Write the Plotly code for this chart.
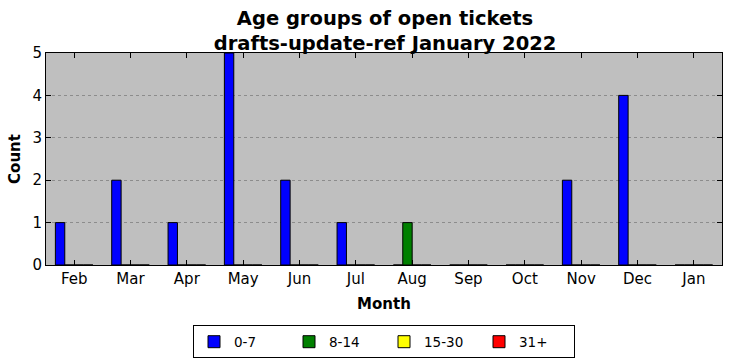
import plotly.graph_objects as go

months = ["Feb", "Mar", "Apr", "May", "Jun", "Jul", "Aug", "Sep", "Oct", "Nov", "Dec", "Jan"]
age_0_7 = [1, 2, 1, 5, 2, 1, 0, 0, 0, 2, 4, 0]
age_8_14 = [0, 0, 0, 0, 0, 0, 1, 0, 0, 0, 0, 0]
age_15_30 = [0, 0, 0, 0, 0, 0, 0, 0, 0, 0, 0, 0]
age_31p = [0, 0, 0, 0, 0, 0, 0, 0, 0, 0, 0, 0]

series = [("0-7", age_0_7, "#0000ff"), ("8-14", age_8_14, "#008000"),
          ("15-30", age_15_30, "#ffff00"), ("31+", age_31p, "#ff0000")]

fig = go.Figure()
for name, vals, col in series:
    fig.add_trace(go.Bar(x=months, y=vals, name=name,
                         marker=dict(color=col, line=dict(color="black", width=1))))

font = "DejaVu Sans"
fig.update_layout(
    width=732, height=361,
    margin=dict(l=46, r=10, t=53, b=96, autoexpand=False),
    paper_bgcolor="white", plot_bgcolor="#bfbfbf",
    barmode="group", bargap=0.333, bargroupgap=0,
    font=dict(family=font, size=13, color="black"),
    title=dict(text="<b>Age groups of open tickets<br>drafts-update-ref January 2022</b>",
               x=0.526, xanchor="center", yref="container", y=1 - 25 / 361, yanchor="top",
               font=dict(size=19.5, family=font), automargin=False),
    showlegend=True,
    legend=dict(orientation="h", x=0.5, xanchor="center", y=-0.285, yanchor="top",
                bordercolor="black", borderwidth=1, bgcolor="white",
                font=dict(size=13.5, family=font), traceorder="normal",
                itemwidth=30, entrywidth=50, entrywidthmode="pixels"),
)
fig.update_xaxes(title=dict(text="<b>Month</b>", font=dict(size=15), standoff=11),
                 showline=True, linecolor="black", linewidth=1, mirror="ticks",
                 ticks="inside", ticklen=5, tickcolor="black", automargin=False,
                 showgrid=False, tickfont=dict(size=15), range=[-0.5, 11.5])
fig.update_yaxes(title=dict(text="<b>Count</b>", font=dict(size=15), standoff=8),
                 range=[0, 5], dtick=1, showline=True, linecolor="black", linewidth=1,
                 mirror="ticks", ticks="inside", ticklen=5, tickcolor="black", automargin=False,
                 showgrid=True, gridcolor="#8c8c8c", griddash="dot", gridwidth=1,
                 zeroline=False, tickfont=dict(size=15))

fig.write_html("out.html", config={"displayModeBar": False},
               post_script="document.body.style.margin='0';")
